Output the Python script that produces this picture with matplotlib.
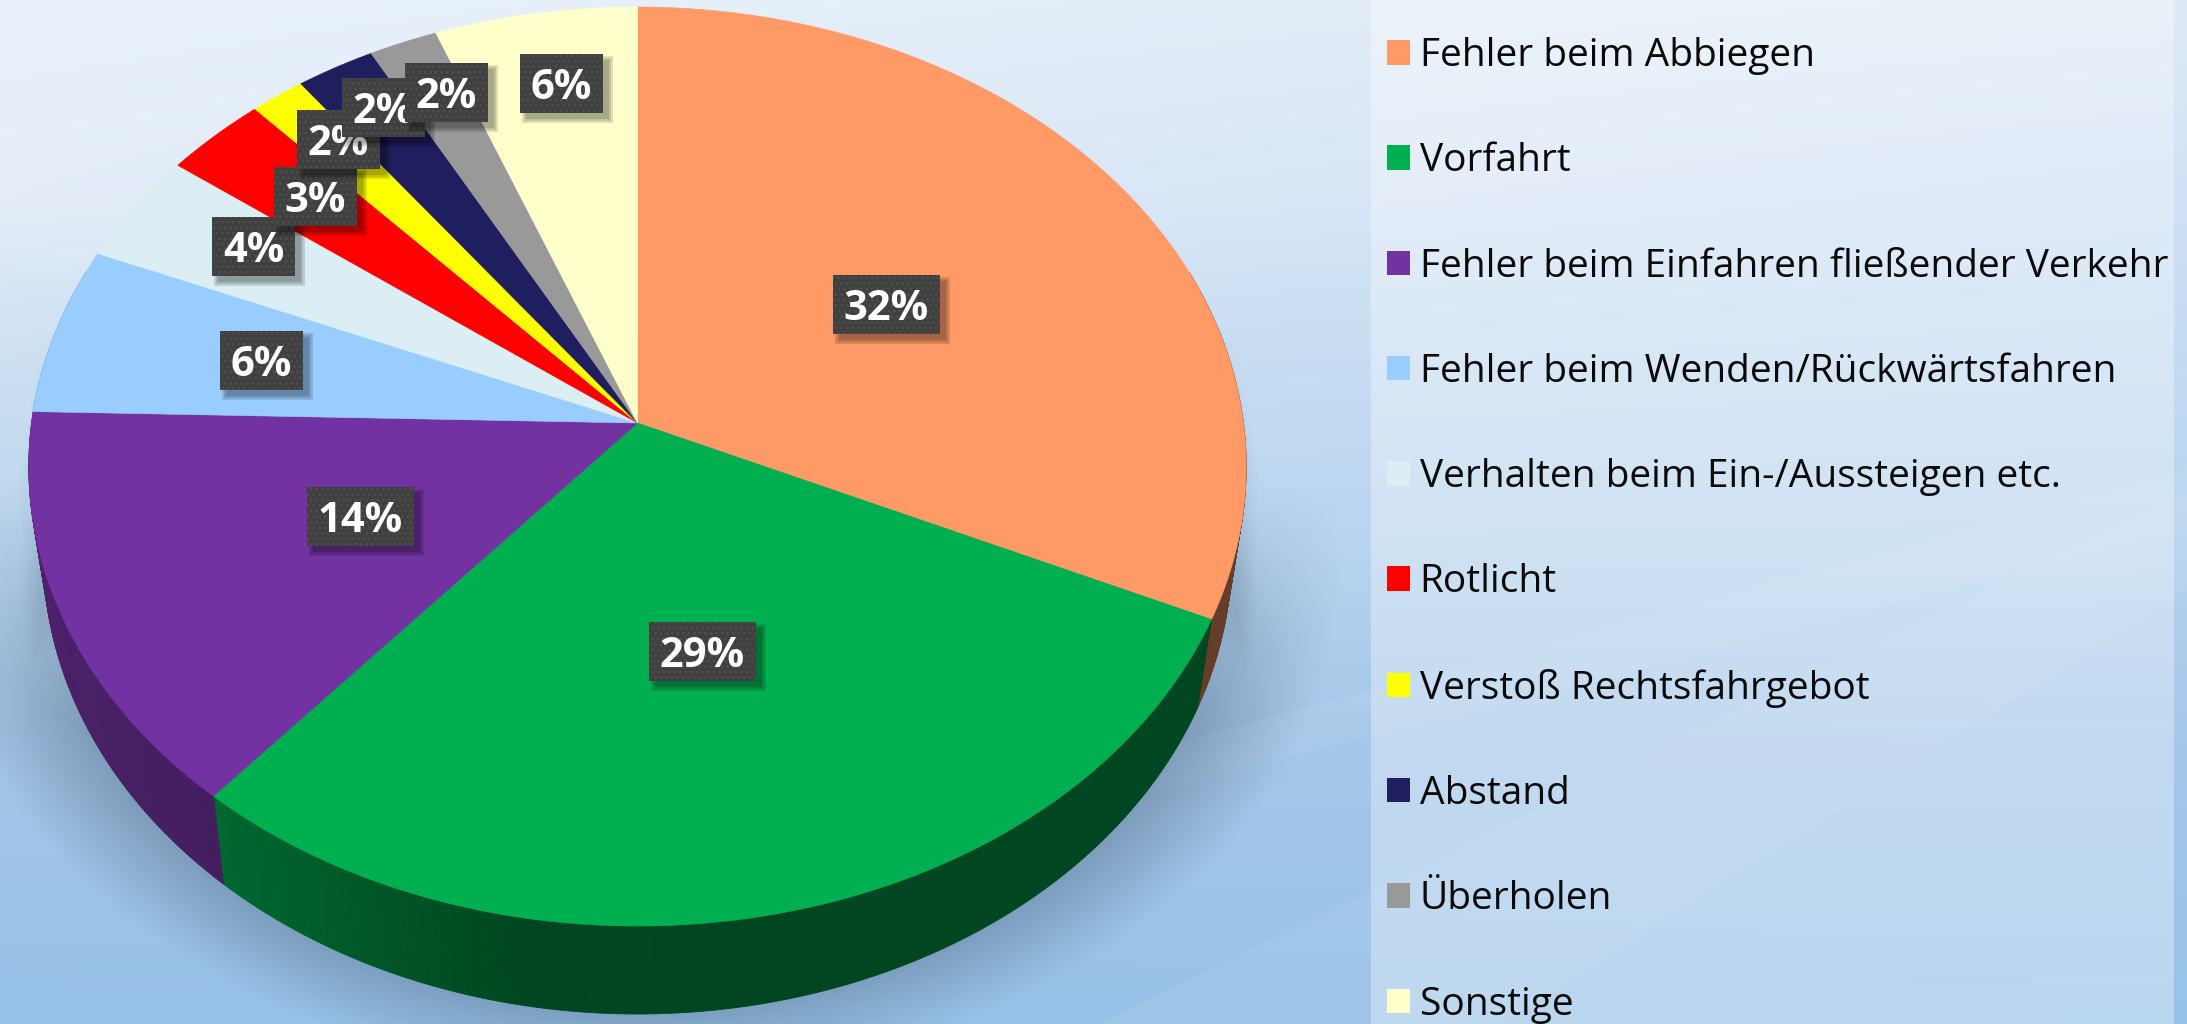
import matplotlib
matplotlib.use('Agg')
import matplotlib.pyplot as plt
import numpy as np
from matplotlib.collections import PolyCollection
from matplotlib.colors import to_rgb
from matplotlib.patches import Patch, Polygon, Rectangle
from matplotlib.path import Path
from matplotlib.transforms import Affine2D, Transform

categories = ['Fehler beim Abbiegen', 'Vorfahrt', 'Fehler beim Einfahren fließender Verkehr',
              'Fehler beim Wenden/Rückwärtsfahren', 'Verhalten beim Ein-/Aussteigen etc.',
              'Rotlicht', 'Verstoß Rechtsfahrgebot', 'Abstand', 'Überholen', 'Sonstige']
shares = [31.8, 29.45, 14.15, 5.9, 3.9, 3.0, 1.6, 2.3, 2.0, 5.9]
percent_labels = ['32%', '29%', '14%', '6%', '4%', '3%', '2%', '2%', '2%', '6%']
colors = ['#FF9966', '#00B050', '#7232A2', '#99CCFF', '#DAEEF3',
          '#FF0000', '#FFFF00', '#1F1F60', '#999999', '#FFFFCC']

# label box centres in pixels
label_x = [886, 702.5, 360.5, 261.5, 253.5, 315, 338.5, 383.5, 446.5, 561.5]
label_y = [304, 651.5, 516, 360, 246.5, 196.5, 139.5, 107.5, 92, 83.5]

W, H = 2187, 1024
CX, CY = 637.5, 423.0
DEPTH = 88.0
plt.rcParams['font.family'] = ['Open Sans', 'DejaVu Sans']
plt.rcParams['hatch.linewidth'] = 1.2


class TiltTransform(Transform):
    # perspective view of the unit circle, apex lands at CX, CY
    input_dims = 2
    output_dims = 2
    is_separable = False
    has_inverse = False

    def transform_non_affine(self, values):
        values = np.asarray(values, dtype=float)
        d = 1 + 0.0947 * values[:, 1]
        return np.c_[CX + 606 * values[:, 0] / d, CY - 455.4 * values[:, 1] / d]

    def transform_path_non_affine(self, path):
        polys = path.transformed(Affine2D().scale(2000)).to_polygons(closed_only=True)
        return Path(self.transform_non_affine(np.vstack(polys) / 2000), closed=True)


tilt = TiltTransform()

fig = plt.figure(figsize=(W / 100, H / 100), dpi=100)
ax = fig.add_axes([0, 0, 1, 1])

# background gradient
yy, xx = np.mgrid[0:H, 0:W]
stops_y = [0, 200, 300, 560, 740, 1024]
left_cols = np.array([[233, 242, 251], [228, 237, 248], [212, 228, 244], [184, 212, 238], [165, 198, 232], [151, 193, 231]])
right_cols = np.array([[223, 234, 246], [208, 225, 245], [200, 221, 243], [182, 211, 239], [165, 199, 234], [152, 195, 232]])
bg = np.zeros((H, W, 3))
for c in range(3):
    l = np.interp(yy[:, 0], stops_y, left_cols[:, c])
    r = np.interp(yy[:, 0], stops_y, right_cols[:, c])
    t = xx / W
    bg[:, :, c] = l[:, None] * (1 - t) + r[:, None] * t
ext = [0, W, H, 0]
ax.imshow(bg / 255, extent=ext, aspect='auto', zorder=0, interpolation='bilinear')

# soft streaks in the background
streaks = [[(0, 215), (620, 120), (620, 160), (0, 285)],
           [(1000, 790), (2187, 470), (2187, 530), (1000, 830)],
           [(1100, 1024), (2187, 490), (2187, 590), (1500, 1024)]]
for s in streaks:
    ax.add_patch(Polygon(s, fc='white', ec='none', alpha=0.06, zorder=1))

# drop shadow behind the pie
right_edge = 1238 + (yy - 313) * 55 / 424
left_edge = 38 - (yy - 326) * 38 / 286
trap = np.clip((right_edge - xx) / 40, 0, 1) * np.clip((xx - left_edge) / 40, 0, 1)
trap = trap * np.clip((yy - 320) / 320, 0, 1) * np.clip((790 - yy) / 220, 0, 1)
dist = np.sqrt(((xx - CX) / 705) ** 2 + ((yy - 560) / 520) ** 2)
blob = np.clip((1.0 - dist) / 0.17, 0, 1) * np.clip((yy - 480) / 240, 0, 1)
alpha = 0.40 * np.maximum(trap, blob)
shadow = np.zeros((H, W, 4))
shadow[:, :, 0] = 60 / 255
shadow[:, :, 1] = 82 / 255
shadow[:, :, 2] = 105 / 255
shadow[:, :, 3] = alpha
ax.imshow(shadow, extent=ext, aspect='auto', zorder=2, interpolation='bilinear')

# side wall of the disc
bounds = np.concatenate([[0], np.cumsum(shares)]) * 3.6
strips = []
strip_cols = []
for i, col in enumerate(colors):
    a0, a1 = max(bounds[i], 70), min(bounds[i + 1], 290)
    if a1 <= a0:
        continue
    edges = np.radians(np.linspace(a0, a1, max(int((a1 - a0) * 3), 2)))
    rim = tilt.transform(np.c_[np.sin(edges), np.cos(edges)])
    low = np.c_[CX + (rim[:, 0] - CX) * 0.976, rim[:, 1] + DEPTH]
    base = np.array(to_rgb(col))
    for j in range(len(edges) - 1):
        strips.append([rim[j], rim[j + 1], low[j + 1], low[j]])
        shade = np.interp(np.degrees(edges[j]), [90, 190, 218, 270], [0.40, 0.40, 0.58, 0.70])
        strip_cols.append(base * shade)
ax.add_collection(PolyCollection(strips, facecolors=strip_cols, edgecolors=strip_cols, linewidths=0.5, zorder=3))

# top face
wedges, _ = ax.pie(shares, colors=colors, startangle=90, counterclock=False, radius=1,
                   wedgeprops=dict(linewidth=0.4, zorder=4))
for wd, c in zip(wedges, colors):
    wd.set_edgecolor(c)
    wd.set_transform(tilt + ax.transData)
ax.set_aspect('auto')
ax.set_xlim(0, W)
ax.set_ylim(H, 0)
ax.axis('off')

# panel behind the legend
ax.add_patch(Rectangle((1371, 0), 803, H, fc='white', ec='none', alpha=0.33, zorder=5))

# percent labels, later ones cover earlier ones
for i, lab in enumerate(percent_labels):
    w = 107 if len(lab) == 3 else 83
    h = 59
    x, y = label_x[i], label_y[i]
    z = 6 + i * 0.1
    for grow in [4, 2, 0]:
        ax.add_patch(Rectangle((x - w / 2 + 6 - grow, y - h / 2 + 6 - grow), w + 2 * grow, h + 2 * grow,
                               fc='black', ec='none', alpha=0.13, zorder=z))
    ax.add_patch(Rectangle((x - w / 2, y - h / 2), w, h,
                           fc='#404040', ec='#4e4e4e', lw=0, hatch='...', zorder=z + 0.01))
    ax.text(x, y, lab, color='white', fontsize=30, fontweight='bold',
            ha='center', va='center_baseline', zorder=z + 0.02)

# legend
handles = [Patch(facecolor=c, edgecolor='none', label=n) for c, n in zip(colors, categories)]
fs = 28
ax.legend(handles=handles, loc='upper left', bbox_to_anchor=(1387 / W, 1 - 37 / H),
          bbox_transform=fig.transFigure, frameon=False, borderpad=0, borderaxespad=0,
          prop={'family': ['Open Sans'], 'size': fs},
          handlelength=23 / (fs * 100 / 72), handleheight=23 / (fs * 100 / 72),
          handletextpad=0.25, labelspacing=1.73, labelcolor='#0a0a0a').set_zorder(8)

fig.savefig('out.png', dpi=100)
